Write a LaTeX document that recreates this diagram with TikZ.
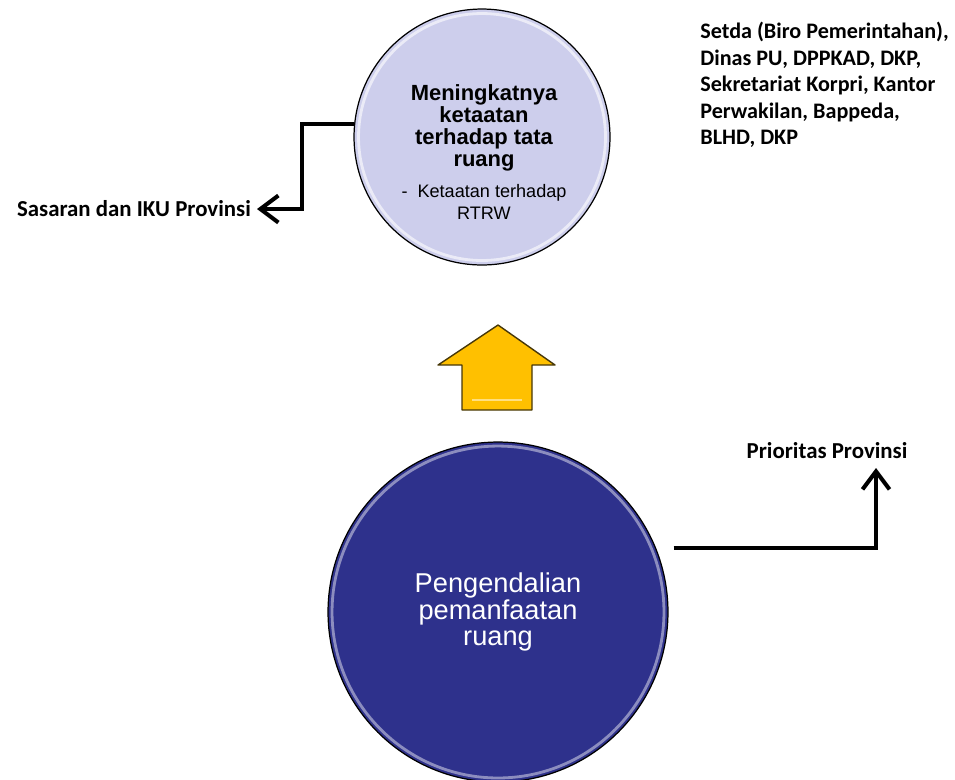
\documentclass[tikz,border=0pt]{standalone}
\usepackage{fontspec}
\setmainfont{Carlito}
\newfontfamily\arialfont{Liberation Sans}
\usetikzlibrary{positioning, calc, arrows.meta}

\definecolor{lavender}{RGB}{205,206,236}
\definecolor{navy}{RGB}{46,49,140}
\definecolor{gold}{RGB}{255,192,0}
\definecolor{golddark}{RGB}{70,55,10}

\tikzset{
  goal/.style={circle, draw=black, line width=0.7pt, inner sep=0pt},
  lbl/.style={font=\fontsize{13}{15}\selectfont\bfseries},
  link/.style={line width=2.3pt, -{Straight Barb[length=3.6mm, width=5.4mm, line width=2.3pt]}}
}

\begin{document}
\begin{tikzpicture}[x=0.02cm, y=-0.02cm]
\useasboundingbox (0,0) rectangle (955,779);

% Sasaran (upper circle)
\node[goal, fill=lavender, minimum size=5.12cm] (top) at (482,137) {};
\draw[white, opacity=0.6, line width=1.6pt] (top) circle (2.47cm);
\node[align=center, font=\arialfont\fontsize{12.5}{12.5}\selectfont\bfseries] (toptxt) at (484,152)
  {Meningkatnya\\
   ketaatan\\
   terhadap tata\\
   ruang\\[5pt]
   \mdseries\fontsize{10.3}{11.5}\selectfont -\ \ Ketaatan terhadap\\
   \mdseries\fontsize{10.3}{11.5}\selectfont RTRW};

% Program (lower circle)
\node[goal, fill=navy, minimum size=6.8cm, text=white, align=center,
      font=\arialfont\fontsize{15.5}{15}\selectfont] (bot) at (498,612)
  {Pengendalian\\pemanfaatan\\ruang};
\draw[white, opacity=0.45, line width=1.6pt] (bot) circle (3.32cm);

% block arrow between the circles
\draw[fill=gold, draw=golddark, line width=0.8pt, line join=round]
  (498,325) -- (555,365) -- (532,365) -- (532,410) -- (462,410)
  -- (462,365) -- (438,365) -- cycle;
\draw[white, opacity=0.5, line width=1.2pt] (472,400) -- (522,400);

% labels
\node[lbl, anchor=east] (sas) at (257,209) {Sasaran dan IKU Provinsi};
\node[lbl] (prio) at (827,451) {Prioritas Provinsi};
\node[anchor=north west, inner sep=0pt, align=left,
      font=\fontsize{12.6}{15.1}\selectfont\bfseries] (opd) at (700,22)
  {Setda (Biro Pemerintahan),\\Dinas PU, DPPKAD, DKP,\\Sekretariat Korpri, Kantor\\Perwakilan, Bappeda,\\BLHD, DKP};

% connectors
\coordinate (bstart) at ($(bot.east)+(5,-64)$);
\coordinate (ptip) at (876,468);
\draw[link] (top.174) -- ++(-52,0) |- (sas.east);
\draw[link] (bstart) -| (ptip);
\end{tikzpicture}
\end{document}
